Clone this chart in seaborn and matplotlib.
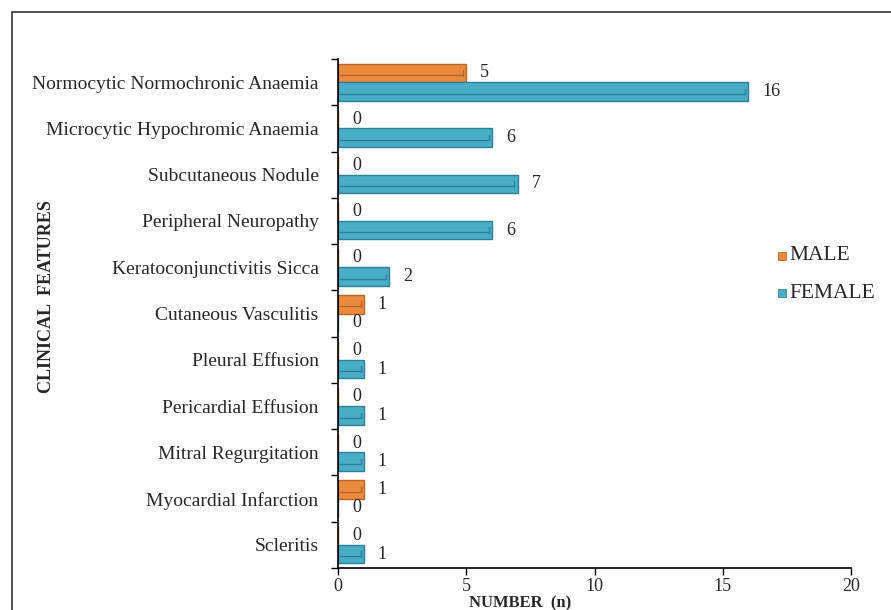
import numpy as np
import pandas as pd
import matplotlib
matplotlib.use("Agg")
import matplotlib.pyplot as plt
import seaborn as sns
from matplotlib.patches import Rectangle

features = [
    "Normocytic Normochronic Anaemia",
    "Microcytic Hypochromic Anaemia",
    "Subcutaneous Nodule",
    "Peripheral Neuropathy",
    "Keratoconjunctivitis Sicca",
    "Cutaneous Vasculitis",
    "Pleural Effusion",
    "Pericardial Effusion",
    "Mitral Regurgitation",
    "Myocardial Infarction",
    "Scleritis",
]
male = [5, 0, 0, 0, 0, 1, 0, 0, 0, 1, 0]
female = [16, 6, 7, 6, 2, 0, 1, 1, 1, 0, 1]
groups = ["MALE", "FEMALE"]
colors = {"MALE": "#E98B3F", "FEMALE": "#4AADC8"}
edges = {"MALE": "#B8642A", "FEMALE": "#2E7F96"}

df = pd.DataFrame({
    "feature": features * 2,
    "sex": ["MALE"] * len(features) + ["FEMALE"] * len(features),
    "n": male + female,
})

sns.set_style("white")
plt.rcParams["font.family"] = ["Liberation Serif", "DejaVu Serif"]

fig = plt.figure(figsize=(8.91, 6.10), dpi=100)
ax = fig.add_axes([338 / 891, 1 - 568 / 610, 513 / 891, 509 / 610])

sns.barplot(data=df, y="feature", x="n", hue="sex", hue_order=groups,
            order=features, palette=colors, width=0.8, orient="h",
            ax=ax, legend=False, saturation=1)

# bar edges + a thin inner line for the bevel look
for cont, g in zip(ax.containers, groups):
    for p in cont.patches:
        p.set_edgecolor(edges[g])
        p.set_linewidth(1.0)
        w = p.get_width()
        if w > 0:
            y0, h = p.get_y(), p.get_height()
            ax.plot([0.08, w - 0.12], [y0 + h * 0.62] * 2,
                    color=edges[g], lw=1.0, zorder=3)
            ax.plot([w - 0.12] * 2, [y0 + h * 0.35, y0 + h * 0.65],
                    color=edges[g], lw=1.0, zorder=3)
    ax.bar_label(cont, labels=[str(int(p.get_width())) for p in cont.patches],
                 padding=10, fontsize=13, color="#222222")

ax.set_xlim(0, 20)
ax.set_ylim(len(features) - 0.5, -0.5)
ax.set_xticks([0, 5, 10, 15, 20])
ax.set_xticklabels(["0", "5", "10", "15", "20"], fontsize=13)
ax.set_yticks(np.arange(-0.5, len(features), 1))
ax.set_yticklabels([])
ax.set_yticks(np.arange(len(features)), minor=True)
ax.set_yticklabels(features, minor=True, fontsize=14)
ax.tick_params(axis="y", which="major", length=5, width=1, color="black", direction="out", left=True)
ax.tick_params(axis="y", which="minor", length=0, pad=14)
ax.tick_params(axis="x", length=5, width=1, color="black", direction="out", bottom=True, pad=2)
ax.set_xlabel("")
ax.set_ylabel("")
for s in ["top", "right"]:
    ax.spines[s].set_visible(False)
for s in ["left", "bottom"]:
    ax.spines[s].set_color("black")
    ax.spines[s].set_linewidth(1.2)

fig.text(47 / 891, 1 - 297 / 610, "CLINICAL  FEATURES", rotation=90,
         ha="center", va="center", fontsize=13, fontweight="bold")
fig.text(520 / 891, 1 - 603 / 610, "NUMBER  (n)", ha="center", va="center",
         fontsize=12, fontweight="bold")

# legend
for i, g in enumerate(groups):
    yy = 1 - (256 + 37 * i) / 610
    fig.patches.append(Rectangle((778 / 891, yy - 4 / 610), 8 / 891, 8 / 610,
                                 transform=fig.transFigure, facecolor=colors[g],
                                 edgecolor=edges[g], lw=0.6))
    fig.text(789 / 891, yy, g, ha="left", va="center", fontsize=15.5)

# outer frame
fig.patches.append(Rectangle((12 / 891, -0.1), 1.0, 1 - 12 / 610 + 0.1,
                             transform=fig.transFigure, fill=False,
                             edgecolor="#333333", lw=1.2))

fig.savefig("out.png", dpi=100)
